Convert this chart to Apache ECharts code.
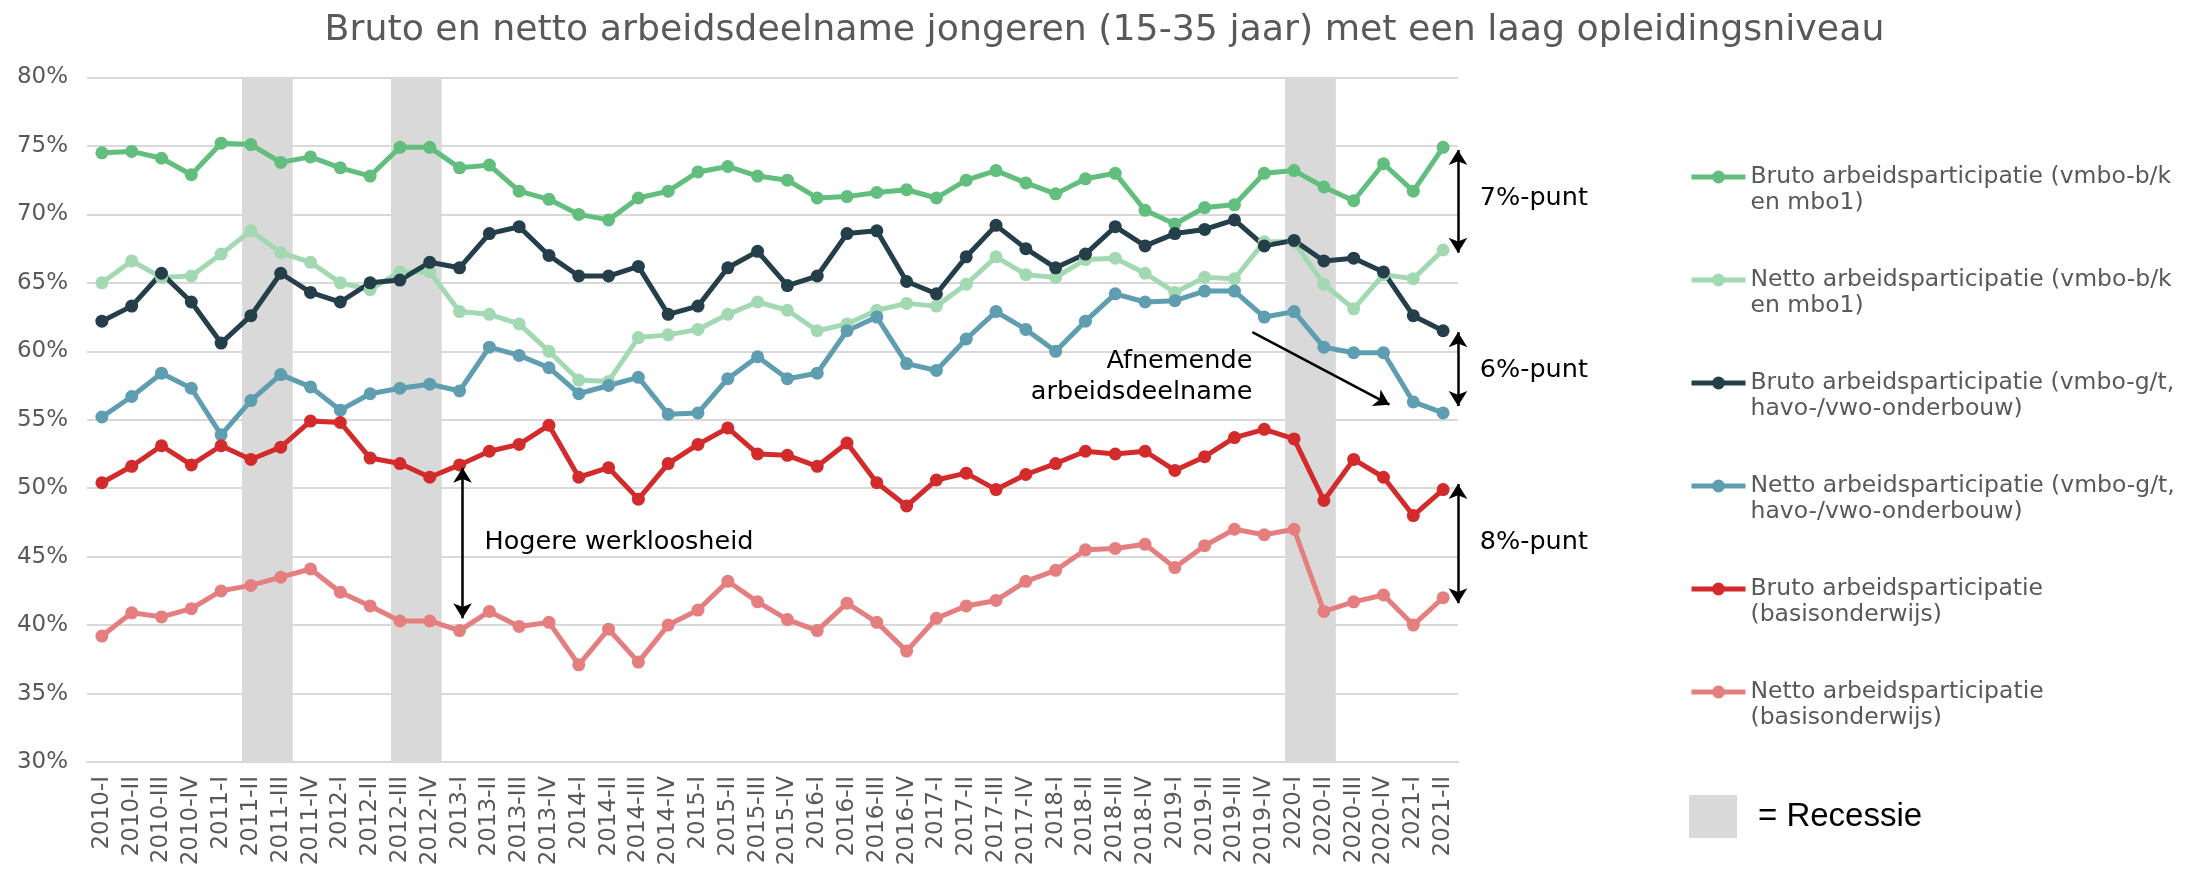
<!DOCTYPE html>
<html>
<head>
<meta charset="utf-8">
<title>Bruto en netto arbeidsdeelname jongeren</title>
<script src="https://cdn.jsdelivr.net/npm/echarts@6.0.0/dist/echarts.min.js"></script>
<style>
  html, body { margin: 0; padding: 0; background: #fff; }
  #chart { width: 2209px; height: 870px; }
</style>
</head>
<body>
<div id="chart"></div>
<script>
// kwartalen
const quarters = [
  '2010-I', '2010-II', '2010-III', '2010-IV',
  '2011-I', '2011-II', '2011-III', '2011-IV',
  '2012-I', '2012-II', '2012-III', '2012-IV',
  '2013-I', '2013-II', '2013-III', '2013-IV',
  '2014-I', '2014-II', '2014-III', '2014-IV',
  '2015-I', '2015-II', '2015-III', '2015-IV',
  '2016-I', '2016-II', '2016-III', '2016-IV',
  '2017-I', '2017-II', '2017-III', '2017-IV',
  '2018-I', '2018-II', '2018-III', '2018-IV',
  '2019-I', '2019-II', '2019-III', '2019-IV',
  '2020-I', '2020-II', '2020-III', '2020-IV',
  '2021-I', '2021-II'
]

const seriesNames = [
  'Bruto arbeidsparticipatie (vmbo-b/k\nen mbo1)',
  'Netto arbeidsparticipatie (vmbo-b/k\nen mbo1)',
  'Bruto arbeidsparticipatie (vmbo-g/t,\nhavo-/vwo-onderbouw)',
  'Netto arbeidsparticipatie (vmbo-g/t,\nhavo-/vwo-onderbouw)',
  'Bruto arbeidsparticipatie\n(basisonderwijs)',
  'Netto arbeidsparticipatie\n(basisonderwijs)'
]

const brutoBK = [74.5, 74.6, 74.1, 72.9, 75.2, 75.1, 73.8, 74.2, 73.4, 72.8, 74.9, 74.9, 73.4, 73.6, 71.7, 71.1,
  70.0, 69.6, 71.2, 71.7, 73.1, 73.5, 72.8, 72.5, 71.2, 71.3, 71.6, 71.8, 71.2, 72.5, 73.2, 72.3, 71.5, 72.6,
  73.0, 70.3, 69.3, 70.5, 70.7, 73.0, 73.2, 72.0, 71.0, 73.7, 71.7, 74.9]
const nettoBK = [65.0, 66.6, 65.4, 65.5, 67.1, 68.8, 67.2, 66.5, 65.0, 64.5, 65.8, 65.8, 62.9, 62.7, 62.0, 60.0,
  57.9, 57.8, 61.0, 61.2, 61.6, 62.7, 63.6, 63.0, 61.5, 62.0, 63.0, 63.5, 63.3, 64.9, 66.9, 65.6, 65.4, 66.7,
  66.8, 65.7, 64.3, 65.4, 65.3, 68.0, 68.0, 64.9, 63.1, 65.6, 65.3, 67.4]
const brutoGT = [62.2, 63.3, 65.7, 63.6, 60.6, 62.6, 65.7, 64.3, 63.6, 65.0, 65.2, 66.5, 66.1, 68.6, 69.1, 67.0,
  65.5, 65.5, 66.2, 62.7, 63.3, 66.1, 67.3, 64.8, 65.5, 68.6, 68.8, 65.1, 64.2, 66.9, 69.2, 67.5, 66.1, 67.1,
  69.1, 67.7, 68.6, 68.9, 69.6, 67.7, 68.1, 66.6, 66.8, 65.8, 62.6, 61.5]
const nettoGT = [55.2, 56.7, 58.4, 57.3, 53.9, 56.4, 58.3, 57.4, 55.7, 56.9, 57.3, 57.6, 57.1, 60.3, 59.7, 58.8,
  56.9, 57.5, 58.1, 55.4, 55.5, 58.0, 59.6, 58.0, 58.4, 61.5, 62.5, 59.1, 58.6, 60.9, 62.9, 61.6, 60.0, 62.2,
  64.2, 63.6, 63.7, 64.4, 64.4, 62.5, 62.9, 60.3, 59.9, 59.9, 56.3, 55.5]
const brutoBasis = [50.4, 51.6, 53.1, 51.7, 53.1, 52.1, 53.0, 54.9, 54.8, 52.2, 51.8, 50.8, 51.7, 52.7, 53.2, 54.6,
  50.8, 51.5, 49.2, 51.8, 53.2, 54.4, 52.5, 52.4, 51.6, 53.3, 50.4, 48.7, 50.6, 51.1, 49.9, 51.0, 51.8, 52.7,
  52.5, 52.7, 51.3, 52.3, 53.7, 54.3, 53.6, 49.1, 52.1, 50.8, 48.0, 49.9]
const nettoBasis = [39.2, 40.9, 40.6, 41.2, 42.5, 42.9, 43.5, 44.1, 42.4, 41.4, 40.3, 40.3, 39.6, 41.0, 39.9, 40.2,
  37.1, 39.7, 37.3, 40.0, 41.1, 43.2, 41.7, 40.4, 39.6, 41.6, 40.2, 38.1, 40.5, 41.4, 41.8, 43.2, 44.0, 45.5,
  45.6, 45.9, 44.2, 45.8, 47.0, 46.6, 47.0, 41.0, 41.7, 42.2, 40.0, 42.0]

// recessies (eerste en laatste kwartaal)
const recessions = [['2011-II', '2011-III'], ['2012-III', '2012-IV'], ['2020-I', '2020-II']]

const colors = ['#62be7c', '#a3d9b2', '#243f4a', '#5f9db0', '#d32b2b', '#e57f7f']
const allData = [brutoBK, nettoBK, brutoGT, nettoGT, brutoBasis, nettoBasis]
const font = 'DejaVu Sans'

const chart = echarts.init(document.getElementById('chart'))

const lineSeries = allData.map((d, i) => ({
  name: seriesNames[i],
  type: 'line',
  data: d,
  color: colors[i],
  symbol: 'circle',
  symbolSize: 13,
  showAllSymbol: true,
  lineStyle: { width: 5 },
  z: 3
}))

// hulp-serie voor recessies en pijlen (op een verborgen indexas)
const qi = q => quarters.indexOf(q)
const annotationSeries = {
  name: 'Recessie',
  type: 'line',
  xAxisIndex: 1,
  data: [],
  color: '#d9d9d9',
  clip: false,
  silent: true,
  markArea: {
    silent: true,
    itemStyle: { color: '#d9d9d9' },
    data: recessions.map(([a, b]) => [
      { xAxis: qi(a) - 0.3, yAxis: 80 },
      { xAxis: qi(b) + 0.4, yAxis: 29.7 }
    ])
  },
  markLine: {
    silent: true,
    symbol: ['arrow', 'arrow'],
    symbolSize: [14, 15],
    label: { show: false },
    lineStyle: { color: '#000', width: 2.5, type: 'solid' },
    emphasis: { disabled: true },
    data: [
      [{ coord: [qi('2013-I') + 0.1, 51.5] }, { coord: [qi('2013-I') + 0.1, 40.5] }],
      [{ coord: [45.5, 74.7] }, { coord: [45.5, 67.2] }],
      [{ coord: [45.5, 61.4] }, { coord: [45.5, 56.0] }],
      [{ coord: [45.5, 50.3] }, { coord: [45.5, 41.6] }],
      [{ coord: [38.6, 61.4], symbol: 'none' }, { coord: [43.2, 56.1], symbol: 'arrow' }]
    ]
  }
}

const option = {
  animation: false,
  title: {
    text: 'Bruto en netto arbeidsdeelname jongeren (15-35 jaar) met een laag opleidingsniveau',
    left: 'center',
    top: 8,
    textStyle: { fontFamily: font, fontSize: 36.3, fontWeight: 'normal', color: '#595959' }
  },
  grid: { left: 87, right: 751, top: 77.5, bottom: 108 },
  legend: [
    {
      data: seriesNames,
      orient: 'vertical',
      left: 1689,
      top: 138,
      padding: 0,
      itemWidth: 54,
      itemHeight: 16,
      itemGap: 25,
      lineStyle: { width: 5 },
      // lege regel erboven zodat het icoon bij de eerste tekstregel staat
      formatter: name => '\n' + name,
      textStyle: { fontFamily: font, fontSize: 23.5, lineHeight: 26, color: '#595959' }
    },
    {
      data: [{ name: 'Recessie', icon: 'rect' }],
      left: 1689,
      top: 795,
      padding: 0,
      itemWidth: 48,
      itemHeight: 43,
      formatter: '= {name}',
      textStyle: { fontFamily: 'Liberation Sans', fontSize: 33, color: '#000', padding: [0, 0, 0, 16] }
    }
  ],
  xAxis: [
    {
      type: 'category',
      data: quarters,
      boundaryGap: true,
      axisLine: { lineStyle: { color: '#d9d9d9', width: 2 } },
      axisTick: { show: false },
      axisLabel: { interval: 0, rotate: 90, margin: 14, fontFamily: font, fontSize: 23, color: '#595959' }
    },
    { type: 'value', min: -0.5, max: 45.5, show: false }
  ],
  yAxis: {
    type: 'value',
    min: 30,
    max: 80,
    interval: 5,
    axisLine: { show: false },
    axisTick: { show: false },
    splitLine: { lineStyle: { color: '#d9d9d9', width: 2 } },
    axisLabel: { formatter: '{value}%', margin: 19, fontFamily: font, fontSize: 23, color: '#595959' }
  },
  series: [...lineSeries, annotationSeries]
}

chart.setOption(option)

// tekstannotaties op datacoördinaten
const toPx = (x, y) => chart.convertToPixel({ seriesIndex: 6 }, [x, y])
const notes = [
  { text: 'Hogere werkloosheid', at: [12.84, 46.07], align: 'left' },
  { text: '7%-punt', at: [46.23, 71.15], align: 'left' },
  { text: '6%-punt', at: [46.23, 58.6], align: 'left' },
  { text: '8%-punt', at: [46.23, 46.04], align: 'left' },
  { text: 'Afnemende\narbeidsdeelname', at: [38.6, 58.16], align: 'right' }
]
chart.setOption({
  graphic: notes.map(n => {
    const p = toPx(n.at[0], n.at[1])
    return {
      type: 'text',
      x: p[0],
      y: p[1],
      z: 10,
      style: {
        text: n.text,
        fill: '#000',
        font: '25.5px "DejaVu Sans"',
        lineHeight: 31,
        align: n.align,
        verticalAlign: 'middle'
      }
    }
  })
})
</script>
</body>
</html>
